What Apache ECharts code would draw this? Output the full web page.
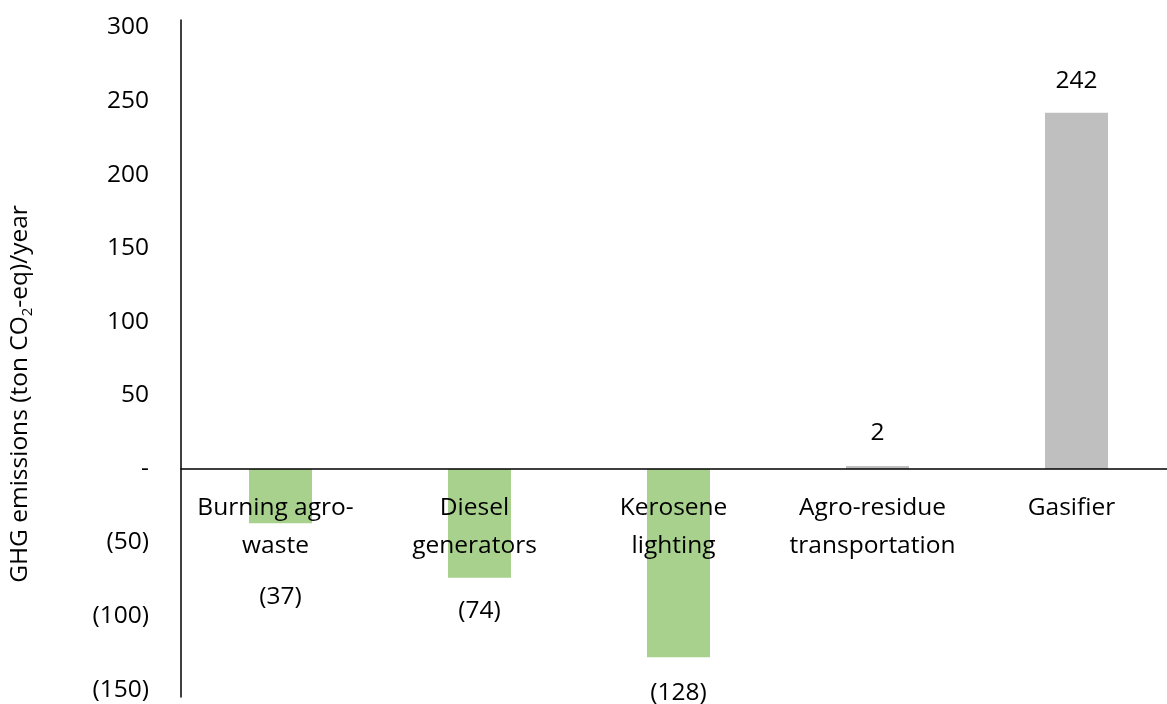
<!DOCTYPE html>
<html>
<head>
<meta charset="utf-8">
<script src="https://cdn.jsdelivr.net/npm/echarts@6/dist/echarts.min.js"></script>
<style>
  html, body { margin: 0; padding: 0; background: #fff; }
  #chart { width: 1167px; height: 704px; }
</style>
</head>
<body>
<div id="chart"></div>
<script>
// GHG emissions by source (ton CO2-eq per year); negatives are avoided emissions
const categories = ['Burning agro-\nwaste', 'Diesel\ngenerators', 'Kerosene\nlighting', 'Agro-residue\ntransportation', 'Gasifier'];
const emissions = [-37, -74, -128, 2, 242];
const yTicks = [-150, -100, -50, 0, 50, 100, 150, 200, 250, 300];

const GREEN = '#A9D18E';
const GREY = '#BFBFBF';
const FONT = 'Open Sans';
const FS = 24.5;

const Y_MIN = -155, Y_MAX = 305;
const GRID_TOP = 20, GRID_H = 677;
// distance from the bottom of the plot up to the zero line
const zeroOffset = GRID_H * (0 - Y_MIN) / (Y_MAX - Y_MIN);

// accounting-style number: negatives in brackets, zero as a dash
function acct(v) {
  if (v === 0) return '-';
  return v < 0 ? '(' + Math.abs(v) + ')' : String(v);
}

const labelDistance = [61, 21, 23, 20, 19];

const chart = echarts.init(document.getElementById('chart'));
chart.setOption({
  animation: false,
  grid: { left: 181, top: GRID_TOP, width: 995, height: GRID_H, containLabel: false, outerBoundsMode: 'none' },
  xAxis: {
    type: 'category',
    data: categories,
    z: 10,
    offset: -zeroOffset,
    axisLine: { onZero: false, lineStyle: { color: '#000', width: 1.5 } },
    axisTick: { show: false },
    axisLabel: {
      color: '#000', fontFamily: FONT, fontSize: FS, lineHeight: 38,
      margin: 20, interval: 0, padding: [0, 10, 0, 0]
    }
  },
  yAxis: {
    type: 'value',
    min: Y_MIN,
    max: Y_MAX,
    splitLine: { show: false },
    axisLine: { show: true, lineStyle: { color: '#000', width: 1.5 } },
    axisTick: { show: false },
    axisLabel: {
      customValues: yTicks,
      color: '#000', fontFamily: FONT, fontSize: FS, margin: 32,
      formatter: acct
    }
  },
  series: [{
    type: 'bar',
    barWidth: 63,
    data: emissions.map((v, i) => ({
      value: v,
      itemStyle: { color: v < 0 ? GREEN : GREY },
      label: { position: v < 0 ? 'bottom' : 'top', distance: labelDistance[i] }
    })),
    label: {
      show: true, color: '#000', fontFamily: FONT, fontSize: FS,
      formatter: p => acct(p.value)
    }
  }],
  graphic: [{
    type: 'text',
    x: 20, y: 394,
    rotation: Math.PI / 2,
    style: {
      text: '{a|GHG emissions (ton CO}{s|2}{a|-eq)/year}',
      align: 'center', verticalAlign: 'middle',
      rich: {
        a: { fontFamily: FONT, fontSize: FS, lineHeight: 30, fill: '#000' },
        s: { fontFamily: FONT, fontSize: 15, lineHeight: 15, verticalAlign: 'bottom', fill: '#000' }
      }
    }
  }]
});
</script>
</body>
</html>
